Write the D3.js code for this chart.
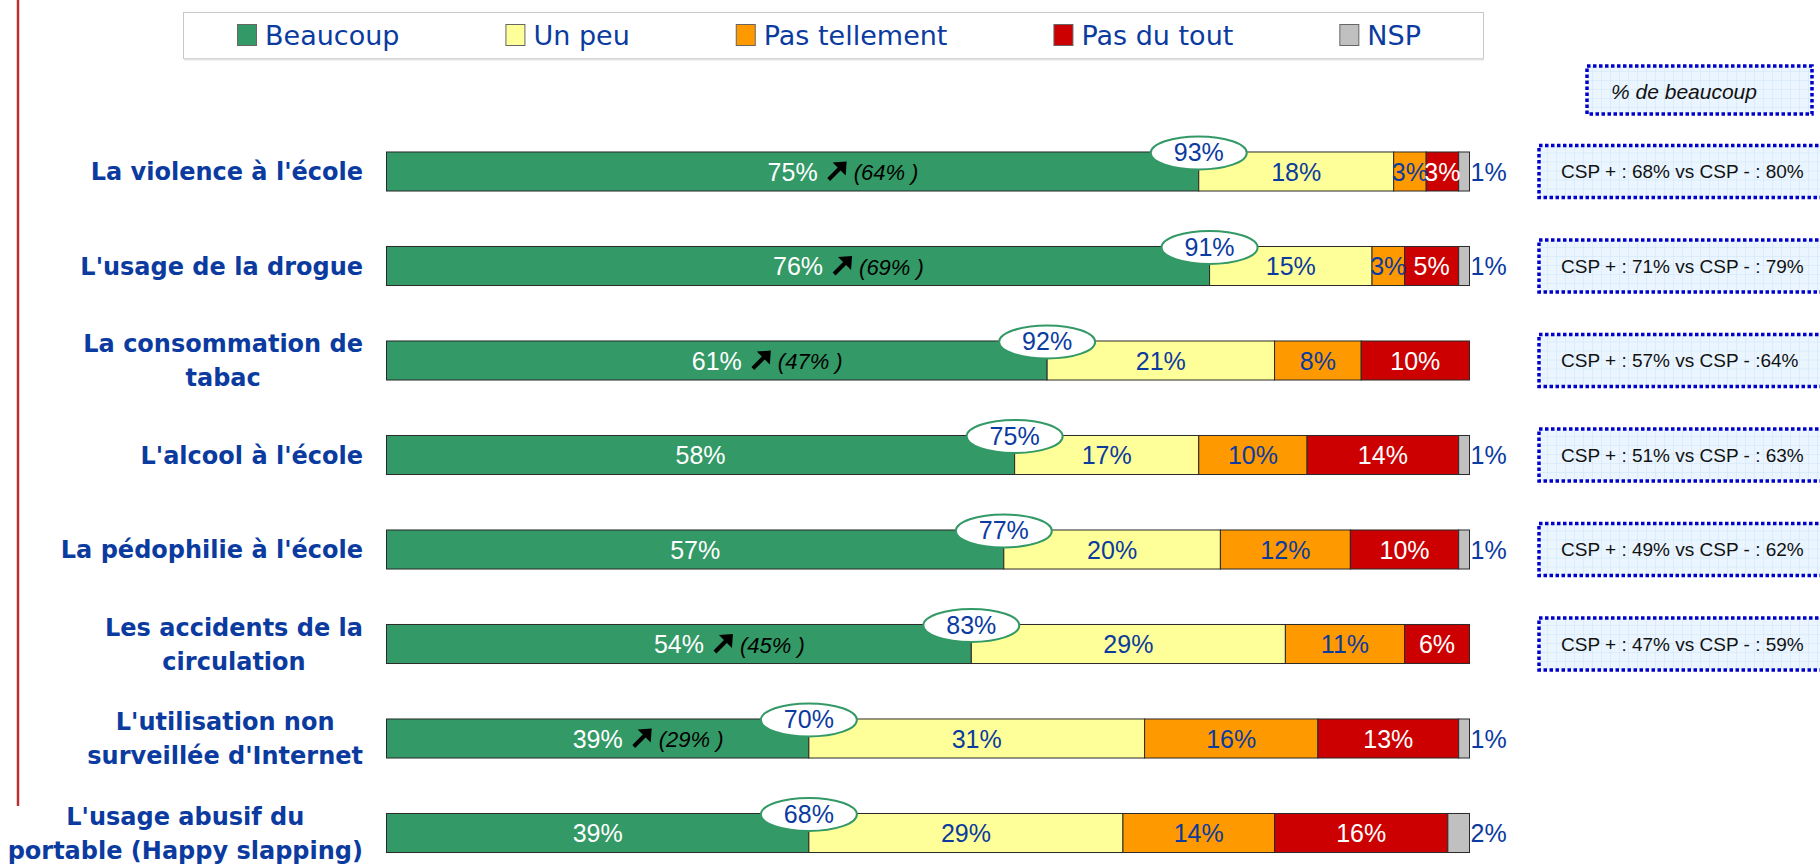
<!DOCTYPE html>
<html>
<head>
<meta charset="utf-8">
<script src="https://cdn.jsdelivr.net/npm/d3@7"></script>
<style>
  body { margin: 0; background: #fff; }
  svg { display: block; }
</style>
</head>
<body>
<svg id="grafico" width="1820" height="866"></svg>
<script>
// données
const categories = [
    "La violence à l'école",
    "L'usage de la drogue",
    "La consommation de\ntabac",
    "L'alcool à l'école",
    "La pédophilie à l'école",
    "Les accidents de la\ncirculation",
    "L'utilisation non\nsurveillée d'Internet",
    "L'usage abusif du\nportable (Happy slapping)"
];
const seriesNames = ["Beaucoup", "Un peu", "Pas tellement", "Pas du tout", "NSP"];
const beaucoup     = [75, 76, 61, 58, 57, 54, 39, 39];
const unPeu        = [18, 15, 21, 17, 20, 29, 31, 29];
const pasTellement = [3, 3, 8, 10, 12, 11, 16, 14];
const pasDuTout    = [3, 5, 10, 14, 10, 6, 13, 16];
const nsp          = [1, 1, 0, 1, 1, 0, 1, 2];
const totalBulles  = [93, 91, 92, 75, 77, 83, 70, 68];   // Beaucoup + Un peu (valeur affichée)
const rappel       = [64, 69, 47, null, null, 45, 29, null]; // ( % ) précédent
const cspLabels = [
    "CSP + : 68% vs CSP - : 80%",
    "CSP + : 71% vs CSP - : 79%",
    "CSP + : 57% vs CSP - :64%",
    "CSP + : 51% vs CSP - : 63%",
    "CSP + : 49% vs CSP - : 62%",
    "CSP + : 47% vs CSP - : 59%",
    null,
    null
];
const cspTitle = "% de beaucoup";

const colors = ["#339966", "#ffff99", "#ff9900", "#cc0000", "#c0c0c0"];
const labelColors = ["#ffffff", "#0b3b9f", "#0b3b9f", "#ffffff", "#0b3b9f"];
const blue = "#0b3b9f";

const svg = d3.select("#grafico");

// motif quadrillé des encadrés
const defs = svg.append("defs");
const pat = defs.append("pattern")
    .attr("id", "grille")
    .attr("width", 9).attr("height", 9)
    .attr("patternUnits", "userSpaceOnUse");
pat.append("rect").attr("width", 9).attr("height", 9).attr("fill", "#eaf5ff");
pat.append("path").attr("d", "M9 0 V9 M0 9 H9").attr("stroke", "#cfe4f8").attr("stroke-width", 1);

// trait rouge vertical à gauche
svg.append("line")
    .attr("x1", 18).attr("x2", 18)
    .attr("y1", 0).attr("y2", 806)
    .attr("stroke", "#b83030").attr("stroke-width", 2.5);

// échelles
const x = d3.scaleLinear().domain([0, 100]).range([386.5, 1469.5]);
const y = d3.scaleBand()
    .domain(categories)
    .range([124.25, 880.25])
    .paddingInner(0.587)
    .paddingOuter(0.2935);
const bw = y.bandwidth();

const rows = categories.map((c, i) => ({
    categorie: c,
    "Beaucoup": beaucoup[i],
    "Un peu": unPeu[i],
    "Pas tellement": pasTellement[i],
    "Pas du tout": pasDuTout[i],
    "NSP": nsp[i],
    total: totalBulles[i],
    rappel: rappel[i],
    csp: cspLabels[i]
}));

const stack = d3.stack().keys(seriesNames)(rows);

// -- légende -------------------------------------------------------------
const leg = svg.append("g");
leg.append("rect")
    .attr("x", 183.5).attr("y", 12.5)
    .attr("width", 1300).attr("height", 46)
    .attr("fill", "#fff")
    .attr("stroke", "#c8c8c8");
leg.append("line")
    .attr("x1", 184).attr("x2", 1484)
    .attr("y1", 59.5).attr("y2", 59.5)
    .attr("stroke", "#e2e2e2").attr("stroke-width", 2);

let lx = 237;
seriesNames.forEach((s, i) => {
    leg.append("rect")
        .attr("x", lx + 0.5).attr("y", 24.5)
        .attr("width", 19).attr("height", 21)
        .attr("fill", colors[i])
        .attr("stroke", "#666").attr("stroke-width", 1);
    const t = leg.append("text")
        .attr("x", lx + 28).attr("y", 35)
        .attr("dy", "0.36em")
        .style("font-family", "'DejaVu Sans', sans-serif")
        .style("font-size", "27px")
        .attr("fill", blue)
        .text(s);
    lx += 28 + t.node().getComputedTextLength() + 106;
});

// -- barres --------------------------------------------------------------
const g = svg.append("g");

stack.forEach((layer, si) => {
    g.selectAll(".seg" + si)
        .data(layer.filter(d => d[1] - d[0] > 0))
        .enter()
        .append("rect")
        .attr("x", d => x(d[0]))
        .attr("y", d => y(d.data.categorie))
        .attr("width", d => x(d[1]) - x(d[0]))
        .attr("height", bw)
        .attr("fill", colors[si])
        .attr("stroke", "#2a2a2a")
        .attr("stroke-width", 1);
});

// valeurs dans les segments (sauf Beaucoup, traité à part)
stack.forEach((layer, si) => {
    if (si === 0) return;
    g.selectAll(".lab" + si)
        .data(layer.filter(d => d[1] - d[0] > 0))
        .enter()
        .append("text")
        .attr("x", d => si === 4 ? x(d[1]) + 1 : (x(d[0]) + x(d[1])) / 2)
        .attr("y", d => y(d.data.categorie) + bw / 2)
        .attr("dy", "0.36em")
        .attr("text-anchor", si === 4 ? "start" : "middle")
        .style("font-family", "'Liberation Sans', Arial, sans-serif")
        .style("font-size", "25px")
        .attr("fill", labelColors[si])
        .text(d => (d[1] - d[0]) + "%");
});

// Beaucoup + flèche + rappel
stack[0].forEach(d => {
    const cy = y(d.data.categorie) + bw / 2;
    const cx = (x(d[0]) + x(d[1])) / 2;
    const t = g.append("text")
        .attr("x", cx).attr("y", cy)
        .attr("dy", "0.36em")
        .attr("text-anchor", "middle")
        .style("font-family", "'Liberation Sans', Arial, sans-serif")
        .style("font-size", "25px")
        .attr("fill", "#fff")
        .text(d.data["Beaucoup"] + "%");
    if (d.data.rappel != null) {
        const w = t.node().getComputedTextLength();
        const ax = cx + w / 2 + 10;
        g.append("line")
            .attr("x1", ax + 1).attr("y1", cy + 8)
            .attr("x2", ax + 12).attr("y2", cy - 3)
            .attr("stroke", "#000").attr("stroke-width", 4);
        g.append("path")
            .attr("d", `M${ax + 19},${cy - 10} L${ax + 5},${cy - 9} L${ax + 18},${cy + 4} Z`)
            .attr("fill", "#000");
        g.append("text")
            .attr("x", ax + 26).attr("y", cy + 1)
            .attr("dy", "0.36em")
            .style("font-family", "'Liberation Sans', Arial, sans-serif")
            .style("font-style", "italic")
            .style("font-size", "22px")
            .attr("fill", "#000")
            .text("(" + d.data.rappel + "% )");
    }
});

// bulles du total
const bulles = g.selectAll(".bulle")
    .data(stack[0])
    .enter()
    .append("g")
    .attr("transform", d => "translate(" + x(d[1]) + "," + (y(d.data.categorie) + 1) + ")");
bulles.append("ellipse")
    .attr("rx", 48).attr("ry", 16.5)
    .attr("fill", "#fff")
    .attr("stroke", "#339966")
    .attr("stroke-width", 2);
bulles.append("text")
    .attr("text-anchor", "middle")
    .attr("dy", "0.34em")
    .style("font-family", "'Liberation Sans', Arial, sans-serif")
    .style("font-size", "25px")
    .attr("fill", blue)
    .text(d => d.data.total + "%");

// -- libellés des catégories --------------------------------------------
const lineH = 34;
categories.forEach(c => {
    const lines = c.split("\n");
    const cy = y(c) + bw / 2;
    const t = svg.append("text")
        .style("font-family", "'DejaVu Sans', Verdana, sans-serif")
        .style("font-weight", "bold")
        .style("font-size", "24px")
        .attr("fill", blue);
    const spans = lines.map((l, i) => t.append("tspan")
        .attr("y", cy + (i - (lines.length - 1) / 2) * lineH)
        .attr("dy", "0.36em")
        .text(l));
    const maxW = d3.max(spans, s => s.node().getComputedTextLength());
    spans.forEach(s => s.attr("x", 363 - maxW / 2).attr("text-anchor", "middle"));
});

// -- encadrés CSP ---------------------------------------------------------
svg.append("rect")
    .attr("x", 1587).attr("y", 66)
    .attr("width", 225).attr("height", 48)
    .attr("fill", "url(#grille)")
    .attr("stroke", "#0000cc")
    .attr("stroke-width", 3.5)
    .attr("stroke-dasharray", "3.5,2.5");
svg.append("text")
    .attr("x", 1611).attr("y", 91)
    .attr("dy", "0.36em")
    .style("font-family", "'Liberation Sans', Arial, sans-serif")
    .style("font-style", "italic")
    .style("font-size", "21px")
    .attr("fill", "#111")
    .text(cspTitle);

const csp = svg.selectAll(".csp")
    .data(rows.filter(r => r.csp))
    .enter()
    .append("g")
    .attr("transform", r => "translate(1539," + (y(r.categorie) + bw / 2) + ")");
csp.append("rect")
    .attr("x", 0).attr("y", -26)
    .attr("width", 320).attr("height", 52)
    .attr("fill", "url(#grille)")
    .attr("stroke", "#0000cc")
    .attr("stroke-width", 3.5)
    .attr("stroke-dasharray", "3.5,2.5");
csp.append("text")
    .attr("x", 22).attr("y", 0)
    .attr("dy", "0.36em")
    .style("font-family", "'Liberation Sans', Arial, sans-serif")
    .style("font-size", "19px")
    .attr("fill", "#111")
    .text(r => r.csp);
</script>
</body>
</html>
